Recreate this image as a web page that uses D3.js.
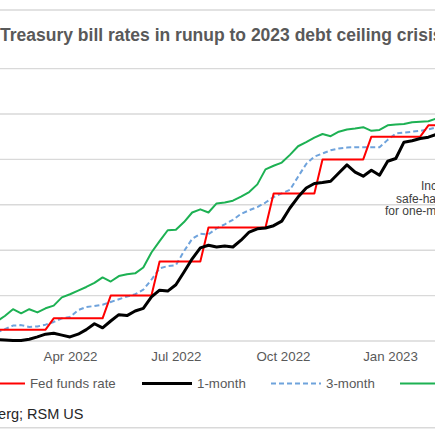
<!DOCTYPE html>
<html>
<head>
<meta charset="utf-8">
<script src="https://cdn.jsdelivr.net/npm/d3@7"></script>
<style>
  html, body { margin: 0; padding: 0; background: #fff; }
  svg { display: block; font-family: "Liberation Sans", Arial, sans-serif; }
</style>
</head>
<body>
<svg id="chart" width="435" height="435"></svg>
<script>
// ---- data (weekly, Fridays) ----
const dates = [
  "2022-01-28","2022-02-04","2022-02-11","2022-02-18","2022-02-25","2022-03-04","2022-03-11",
  "2022-03-18","2022-03-25","2022-04-01","2022-04-08","2022-04-15","2022-04-22","2022-04-29",
  "2022-05-06","2022-05-13","2022-05-20","2022-05-27","2022-06-03","2022-06-10","2022-06-17",
  "2022-06-24","2022-07-01","2022-07-08","2022-07-15","2022-07-22","2022-07-29","2022-08-05",
  "2022-08-12","2022-08-19","2022-08-26","2022-09-02","2022-09-09","2022-09-16","2022-09-23",
  "2022-09-30","2022-10-07","2022-10-14","2022-10-21","2022-10-28","2022-11-04","2022-11-11",
  "2022-11-18","2022-11-25","2022-12-02","2022-12-09","2022-12-16","2022-12-23","2022-12-30",
  "2023-01-06","2023-01-13","2023-01-20","2023-01-27","2023-02-03","2023-02-10"
];
const fedFunds = [
  0.25,0.25,0.25,0.25,0.25,0.25,0.25,
  0.5,0.5,0.5,0.5,0.5,0.5,0.5,
  1.0,1.0,1.0,1.0,1.0,1.0,
  1.75,1.75,1.75,1.75,1.75,1.75,
  2.5,2.5,2.5,2.5,2.5,2.5,2.5,2.5,
  3.25,3.25,3.25,3.25,3.25,3.25,
  4.0,4.0,4.0,4.0,4.0,4.0,
  4.5,4.5,4.5,4.5,4.5,4.5,4.5,
  4.75,4.75
];
const oneMonth = [
  0.03,0.02,0.01,0.01,0.04,0.09,0.15,0.17,0.13,0.09,
  0.15,0.25,0.38,0.29,0.44,0.58,0.56,0.66,0.72,0.97,
  1.12,1.10,1.24,1.52,1.81,2.05,2.11,2.07,2.09,2.07,
  2.22,2.40,2.47,2.49,2.54,2.64,2.93,3.17,3.37,3.47,
  3.49,3.52,3.70,3.88,3.72,3.63,3.76,3.65,3.96,4.02,
  4.38,4.41,4.46,4.49,4.55
];
const threeMonth = [
  0.19,0.26,0.34,0.35,0.31,0.32,0.36,0.42,0.50,0.53,
  0.68,0.75,0.77,0.80,0.86,0.92,0.98,1.03,1.13,1.35,
  1.60,1.65,1.67,1.98,2.25,2.36,2.35,2.48,2.57,2.67,
  2.80,2.88,2.95,3.05,3.17,3.25,3.33,3.62,3.90,4.06,
  4.13,4.20,4.24,4.26,4.27,4.27,4.27,4.27,4.43,4.57,
  4.59,4.61,4.63,4.66,4.71
];
const sixMonth = [
  0.43,0.55,0.70,0.61,0.70,0.63,0.72,0.78,0.96,1.03,
  1.11,1.19,1.28,1.40,1.31,1.43,1.47,1.49,1.62,1.95,
  2.20,2.44,2.45,2.62,2.83,2.90,2.83,3.03,3.05,3.09,
  3.18,3.28,3.45,3.78,3.86,3.93,4.10,4.29,4.38,4.48,
  4.56,4.51,4.61,4.66,4.68,4.71,4.63,4.65,4.75,4.77,
  4.78,4.82,4.83,4.84,4.90
];
const seriesNames = ["Fed funds rate","1-month","3-month","6-month"];
const tickDates = ["2022-04-01","2022-07-01","2022-10-01","2023-01-01"];
const tickLabels = ["Apr 2022","Jul 2022","Oct 2022","Jan 2023"];
const yTicks = [0,1,2,3,4,5,6];
const titleText = "Treasury bill rates in runup to 2023 debt ceiling crisis";
const sourceText = "Source: Bloomberg; RSM US";
const noteLines = ["Increased","safe-haven demand","for one-month bills"];

// ---- setup ----
const W = 435, H = 435;
const svg = d3.select("#chart");
svg.append("rect").attr("width", W).attr("height", H).attr("fill", "#fff");

const parse = d3.utcParse("%Y-%m-%d");
const x = d3.scaleUtc()
  .domain([parse("2022-01-01"), parse("2023-03-01")])
  .range([-34.73, 458.65]);
const y = d3.scaleLinear().domain([0, 6]).range([341, 68.6]);

// frame lines
svg.append("line").attr("x1", 0).attr("x2", W).attr("y1", 10).attr("y2", 10)
  .attr("stroke", "#d9d9d9").attr("stroke-width", 1.5);
svg.append("line").attr("x1", 0).attr("x2", W).attr("y1", 427.7).attr("y2", 427.7)
  .attr("stroke", "#d9d9d9").attr("stroke-width", 1.5);

// title
svg.append("text").attr("x", 0).attr("y", 41)
  .attr("font-size", 17.5).attr("font-weight", "bold").attr("fill", "#595959")
  .text(titleText);

// gridlines
svg.append("g").selectAll("line").data(yTicks).join("line")
  .attr("x1", 0).attr("x2", W)
  .attr("y1", d => y(d)).attr("y2", d => y(d))
  .attr("stroke", "#d9d9d9").attr("stroke-width", 1.4);

// x axis
const xAxis = d3.axisBottom(x)
  .tickValues(tickDates.map(parse))
  .tickFormat((d, i) => tickLabels[i])
  .tickSize(0).tickPadding(11);
const gx = svg.append("g").attr("transform", `translate(0,${y(0)})`).call(xAxis);
gx.select(".domain").remove();
gx.selectAll("text").attr("font-size", 13.3).attr("fill", "#595959")
  .attr("font-family", "Liberation Sans, Arial, sans-serif");

// lines
const pts = arr => arr.map((v, i) => [parse(dates[i]), v]);
const line = d3.line().x(d => x(d[0])).y(d => y(d[1]));
const styles = [
  {data: fedFunds,   color: "#ff0000", w: 2,   dash: null},
  {data: oneMonth,   color: "#000000", w: 3,   dash: null},
  {data: threeMonth, color: "#6fa3dc", w: 2,   dash: "5,3"},
  {data: sixMonth,   color: "#1db153", w: 2,   dash: null}
];
const drawOrder = [3, 2, 0, 1];
drawOrder.forEach(k => {
  const s = styles[k];
  svg.append("path").datum(pts(s.data))
    .attr("fill", "none").attr("stroke", s.color).attr("stroke-width", s.w)
    .attr("stroke-dasharray", s.dash).attr("stroke-linejoin", "round")
    .attr("d", line);
});

// annotation
const noteX = [421, 396, 385];
const noteY = [190, 202.5, 215];
noteLines.forEach((t, i) => {
  svg.append("text").attr("x", noteX[i]).attr("y", noteY[i])
    .attr("font-size", 12).attr("fill", "#404040").text(t);
});

// legend
const legX = [-25, 142, 271, 400];
const legY = 383.5;
seriesNames.forEach((n, i) => {
  const s = styles[i];
  svg.append("line").attr("x1", legX[i]).attr("x2", legX[i] + 50)
    .attr("y1", legY).attr("y2", legY)
    .attr("stroke", s.color).attr("stroke-width", s.w).attr("stroke-dasharray", s.dash);
  svg.append("text").attr("x", legX[i] + 55).attr("y", legY + 4.8)
    .attr("font-size", 13.3).attr("fill", "#595959").text(n);
});

// source
svg.append("text").attr("x", 83.5).attr("y", 419).attr("text-anchor", "end")
  .attr("font-size", 14.5).attr("fill", "#262626").text(sourceText);
</script>
</body>
</html>
